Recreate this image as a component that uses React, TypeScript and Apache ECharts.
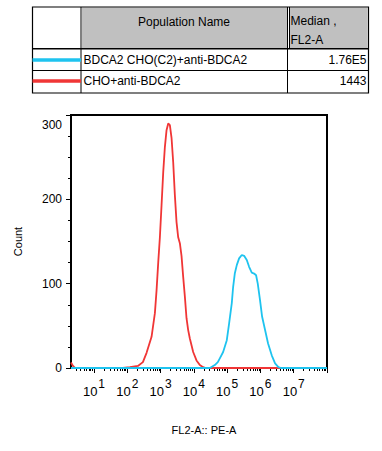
import { useEffect, useRef } from "react";
import * as echarts from "echarts";

const FONT = "'Liberation Sans', Arial, Helvetica, sans-serif";

// Legend table
const populationNames = ["BDCA2 CHO(C2)+anti-BDCA2", "CHO+anti-BDCA2"];
const medianFL2A = ["1.76E5", "1443"];
const populationColors = ["#1ec3ef", "#f03636"];
const tableHeaders = ["Population Name", "Median ,", "FL2-A"];

// Histogram: x = log10(FL2-A), y = count
const blueLogFL2 = [0.31, 4.48, 4.63, 4.72, 4.78, 4.88, 4.99, 5.06, 5.14, 5.18, 5.23, 5.29, 5.36, 5.44, 5.51, 5.59, 5.66, 5.74, 5.81, 5.87, 5.92, 5.99, 6.05, 6.14, 6.23, 6.34, 6.44, 6.54, 6.62, 8.0];
const blueCount = [0, 0, 3.5, 7, 11.5, 19, 33, 53, 77, 96, 112, 122, 130, 134, 133, 128, 120, 113, 112, 110, 100, 80, 61, 45, 29, 15, 5.5, 1, 0, 0];

const redLogFL2 = [0.31, 0.37, 0.43, 1.87, 2.08, 2.32, 2.47, 2.58, 2.73, 2.83, 2.88, 2.93, 2.98, 3.03, 3.08, 3.13, 3.18, 3.23, 3.28, 3.33, 3.38, 3.43, 3.48, 3.53, 3.58, 3.63, 3.68, 3.73, 3.78, 3.83, 3.88, 3.98, 4.08, 4.18, 4.28, 4.36, 8.0];
const redCount = [6.5, 2.4, 0, 0, 1, 2.4, 7, 18, 37, 65, 92, 125, 155, 193, 232, 262, 282, 290, 288, 273, 244, 205, 173, 155, 148, 133, 108, 85, 59, 45, 35, 19, 9, 3.5, 1, 0, 0];

// Axes
const xMinDecade = 0.31;
const xMaxDecade = 8;
const labelDecades = [1, 2, 3, 4, 5, 6, 7];
const majorDecades = [1, 2, 3, 4, 5, 6, 7, 8];
const minorMultipliers = [2, 3, 4, 5, 6, 7, 8, 9];
const yTickLabels = [0, 100, 200, 300];

export default function App() {
  const ref = useRef<HTMLDivElement>(null);

  useEffect(() => {
    if (!ref.current) return;
    const chart = echarts.init(ref.current, null, { renderer: "svg" });

    const minorTicks: number[] = [];
    for (let n = 0; n <= 7; n++) {
      for (const k of minorMultipliers) {
        const v = n + Math.log10(k);
        if (v >= xMinDecade && v <= xMaxDecade) minorTicks.push(v);
      }
    }

    const txt = (text: string, x: number, y: number, align = "left") => ({
      type: "text",
      x,
      y,
      style: {
        text,
        fill: "#000",
        font: `12px ${FONT}`,
        textAlign: align,
        textVerticalAlign: "middle",
      },
    });
    const ln = (x1: number, y1: number, x2: number, y2: number, w = 1) => ({
      type: "line",
      shape: { x1, y1, x2, y2 },
      style: { stroke: "#000", lineWidth: w },
    });

    const rowY = [60, 81];
    const table: any[] = [
      { type: "rect", shape: { x: 82, y: 7.5, width: 205, height: 40.5 }, style: { fill: "#c0c0c0" } },
      { type: "rect", shape: { x: 290, y: 7.5, width: 77.5, height: 40.5 }, style: { fill: "#c0c0c0" } },
      { type: "rect", shape: { x: 32.5, y: 7, width: 336, height: 86 }, style: { fill: "none", stroke: "#000", lineWidth: 1.2 } },
      ln(81, 7, 81, 93),
      ln(287.5, 7, 287.5, 93),
      ln(289.5, 7, 289.5, 48.5),
      ln(32.5, 48.8, 368.5, 48.8, 1.5),
      ln(32.5, 70.5, 368.5, 70.5),
      txt(tableHeaders[0], 184, 21.5, "center"),
      txt(tableHeaders[1], 290.5, 21),
      txt(tableHeaders[2], 290.5, 39.5),
    ];
    populationNames.forEach((name, i) => {
      table.push({
        type: "rect",
        shape: { x: 32.5, y: rowY[i] - 1.8, width: 48.5, height: 3.6 },
        style: { fill: populationColors[i] },
      });
      table.push(txt(name, 83.5, rowY[i]));
      table.push(txt(medianFL2A[i], 366.5, rowY[i], "right"));
    });

    const toPairs = (xs: number[], ys: number[]) => xs.map((x, i) => [x, ys[i]]);

    chart.setOption({
      animation: false,
      backgroundColor: "#fff",
      textStyle: { fontFamily: FONT, color: "#000" },
      grid: {
        left: 71,
        top: 115,
        width: 256,
        height: 253,
        show: true,
        borderColor: "#000",
        borderWidth: 2,
        backgroundColor: "transparent",
      },
      xAxis: [
        {
          type: "value",
          min: xMinDecade,
          max: xMaxDecade,
          position: "bottom",
          axisLine: { show: true, onZero: false, lineStyle: { color: "#000", width: 2 } },
          axisTick: { show: true, length: 5, customValues: majorDecades, lineStyle: { color: "#000", width: 1 } },
          axisLabel: {
            customValues: labelDecades,
            margin: 10,
            color: "#000",
            formatter: (v: number) => `{b|10}{e|${Math.round(v)}}`,
            rich: {
              b: { fontSize: 13, fontFamily: FONT, color: "#000" },
              e: { fontSize: 12, fontFamily: FONT, color: "#000", padding: [0, 0, 15, 1] },
            },
          },
          splitLine: { show: false },
          name: "FL2-A:: PE-A",
          nameLocation: "middle",
          nameGap: 56,
          nameTextStyle: { fontSize: 11, color: "#000", fontFamily: FONT, padding: [0, 0, 0, 10] },
        },
        {
          type: "value",
          min: xMinDecade,
          max: xMaxDecade,
          position: "bottom",
          axisLine: { show: false, onZero: false },
          axisTick: { show: true, length: 3, customValues: minorTicks, lineStyle: { color: "#000", width: 1 } },
          axisLabel: { show: false },
          splitLine: { show: false },
        },
      ],
      yAxis: {
        type: "value",
        min: yTickLabels[0],
        max: yTickLabels[yTickLabels.length - 1],
        interval: 100,
        axisLine: { show: true, lineStyle: { color: "#000", width: 2 } },
        axisTick: { show: true, length: 5, lineStyle: { color: "#000", width: 1 } },
        minorTick: { show: true, splitNumber: 4, length: 3, lineStyle: { color: "#000", width: 1 } },
        splitLine: { show: false },
        minorSplitLine: { show: false },
        axisLabel: {
          margin: 9,
          fontSize: 12,
          color: "#000",
          fontFamily: FONT,
          formatter: (v: number) => (v === 300 ? "{t|300}" : String(v)),
          rich: { t: { fontSize: 12, fontFamily: FONT, color: "#000", padding: [20, 0, 0, 0] } },
        },
        name: "Count",
        nameLocation: "middle",
        nameRotate: 90,
        nameGap: 48,
        nameTextStyle: { fontSize: 11, color: "#000", fontFamily: FONT },
      },
      series: [
        {
          name: populationNames[1],
          type: "line",
          xAxisIndex: 0,
          data: toPairs(redLogFL2, redCount),
          showSymbol: false,
          symbol: "none",
          lineStyle: { color: populationColors[1], width: 1.8 },
          z: 2,
        },
        {
          name: populationNames[0],
          type: "line",
          xAxisIndex: 0,
          data: toPairs(blueLogFL2, blueCount),
          showSymbol: false,
          symbol: "none",
          lineStyle: { color: populationColors[0], width: 1.8 },
          z: 3,
        },
      ],
      graphic: table,
    });

    return () => chart.dispose();
  }, []);

  return (
    <div
      ref={ref}
      style={{ position: "fixed", left: 0, top: 0, width: 382, height: 451, background: "#fff" }}
    />
  );
}
